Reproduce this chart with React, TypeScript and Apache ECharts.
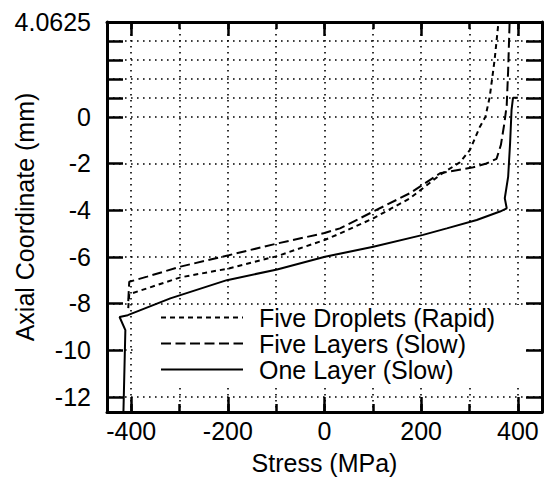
import React, { useEffect, useRef } from "react";
import * as echarts from "echarts";

const seriesNames = ["Five Droplets (Rapid)", "Five Layers (Slow)", "One Layer (Slow)"];

// [stress (MPa), axial coordinate (mm)]
const fiveDroplets: [number, number][] = [
  [-406, -8.2], [-404, -7.6], [-367, -7.35], [-298, -6.88], [-198, -6.5],
  [-98, -5.97], [0, -5.28], [32, -5.0], [101, -4.35], [177, -3.49],
  [239, -2.49], [280, -1.95], [301, -1.42], [321, -0.45], [333, 0],
  [342, 0.87], [352, 2.45], [360, 4.0625],
];

const fiveLayers: [number, number][] = [
  [-406, -7.9], [-404, -7.07], [-367, -6.85], [-298, -6.42], [-198, -5.93],
  [-98, -5.43], [0, -4.98], [32, -4.78], [101, -4.06], [177, -3.27],
  [239, -2.42], [308, -2.16], [335, -2.0], [356, -1.8], [365, -1.2],
  [372, -0.3], [377, 0.5], [380, 2], [383, 4.0625],
];

const oneLayer: [number, number][] = [
  [-416, -12.65], [-412, -9.14], [-424, -8.58], [-407, -8.5], [-319, -7.78],
  [-202, -7.0], [-98, -6.54], [1, -6.0], [101, -5.57], [204, -5.06],
  [253, -4.78], [315, -4.42], [363, -4.06], [377, -3.92], [373, -3.49],
  [380, -2.56], [384, -1.12], [387, 0.3], [390, 0.8125], [400, 0.8125],
];

const xMin = -450;
const xMax = 450;
const yMin = -12.65;
const yMax = 4.0625;
const xGridValues = [-400, -300, -200, -100, 0, 100, 200, 300, 400];
const xMajorValues = [-400, -200, 0, 200, 400];
const yTickValues = [-12, -10, -8, -6, -4, -2, 0, 0.8125, 1.625, 2.4375, 3.25];
const yLabelValues = [-12, -10, -8, -6, -4, -2, 0, 4.0625];

const FONT = "'Liberation Sans', Arial, Helvetica, sans-serif";

export default function App() {
  const ref = useRef<HTMLDivElement>(null);

  useEffect(() => {
    if (!ref.current) return;
    const chart = echarts.init(ref.current, undefined, { renderer: "svg" });

    const axisLineStyle = { color: "#000", width: 3 };
    const gridLine = {
      show: true,
      lineStyle: { color: "#000", width: 1.6, type: [1.6, 4.4] as number[] },
    };
    const tickLine = { color: "#000", width: 2.5 };

    const xBase = { type: "value" as const, min: xMin, max: xMax, gridIndex: 0 };
    const yBase = { type: "value" as const, min: yMin, max: yMax, gridIndex: 0 };

    const option: any = {
      animation: false,
      backgroundColor: "#fff",
      textStyle: { fontFamily: FONT },
      grid: {
        left: 107,
        right: 3,
        top: 22,
        bottom: 65,
        containLabel: false,
        outerBoundsMode: "none",
      },
      legend: {
        data: seriesNames,
        orient: "vertical",
        left: 137,
        top: 305,
        z: 1,
        itemWidth: 82,
        itemHeight: 14,
        itemGap: 1,
        padding: [0, 28, 3, 23],
        backgroundColor: "#fff",
        itemStyle: { opacity: 0 },
        textStyle: {
          fontSize: 25,
          color: "#000",
          fontFamily: FONT,
          padding: [0, 0, 0, 11],
        },
      },
      xAxis: [
        {
          ...xBase,
          position: "bottom",
          name: "Stress (MPa)",
          nameLocation: "middle",
          nameGap: 38,
          nameMoveOverlap: false,
          nameTextStyle: { fontSize: 25, color: "#000", fontFamily: FONT },
          axisLine: { show: true, onZero: false, lineStyle: axisLineStyle },
          axisTick: { show: true, inside: true, length: 8, customValues: xGridValues, lineStyle: tickLine },
          axisLabel: {
            show: true,
            customValues: xMajorValues,
            margin: 6,
            fontSize: 25,
            color: "#000",
            fontFamily: FONT,
          },
          splitLine: gridLine,
        },
        {
          ...xBase,
          position: "bottom",
          axisLine: { show: false, onZero: false },
          axisTick: { show: true, inside: true, length: 15, customValues: xMajorValues, lineStyle: tickLine },
          axisLabel: { show: false },
          splitLine: { show: false },
        },
        {
          ...xBase,
          position: "top",
          axisLine: { show: true, onZero: false, lineStyle: axisLineStyle },
          axisTick: { show: true, inside: true, length: 7, customValues: xGridValues, lineStyle: tickLine },
          axisLabel: { show: false },
          splitLine: { show: false },
        },
        {
          ...xBase,
          position: "top",
          axisLine: { show: false, onZero: false },
          axisTick: { show: true, inside: true, length: 14, customValues: xMajorValues, lineStyle: tickLine },
          axisLabel: { show: false },
          splitLine: { show: false },
        },
      ],
      yAxis: [
        {
          ...yBase,
          position: "left",
          name: "Axial Coordinate (mm)",
          nameLocation: "middle",
          nameGap: 70,
          nameMoveOverlap: false,
          nameTextStyle: { fontSize: 25, color: "#000", fontFamily: FONT },
          axisLine: { show: true, onZero: false, lineStyle: axisLineStyle },
          axisTick: { show: true, inside: true, length: 16, customValues: yTickValues, lineStyle: tickLine },
          axisLabel: {
            show: true,
            customValues: yLabelValues,
            margin: 16,
            fontSize: 25,
            color: "#000",
            fontFamily: FONT,
            formatter: (v: number) => String(v),
          },
          splitLine: gridLine,
        },
        {
          ...yBase,
          position: "right",
          axisLine: { show: true, onZero: false, lineStyle: axisLineStyle },
          axisTick: { show: true, inside: true, length: 16, customValues: yTickValues, lineStyle: tickLine },
          axisLabel: { show: false },
          splitLine: { show: false },
        },
      ],
      series: [
        {
          name: seriesNames[0],
          type: "line",
          data: fiveDroplets,
          symbol: "none",
          z: 3,
          lineStyle: { color: "#000", width: 2, type: [5, 4] },
          itemStyle: { color: "#000" },
        },
        {
          name: seriesNames[1],
          type: "line",
          data: fiveLayers,
          symbol: "none",
          z: 3,
          lineStyle: { color: "#000", width: 2, type: [10, 4.5] },
          itemStyle: { color: "#000" },
        },
        {
          name: seriesNames[2],
          type: "line",
          data: oneLayer,
          symbol: "none",
          z: 3,
          lineStyle: { color: "#000", width: 2, type: "solid" },
          itemStyle: { color: "#000" },
        },
      ],
    };

    chart.setOption(option);
    return () => chart.dispose();
  }, []);

  return (
    <div
      ref={ref}
      style={{ position: "fixed", left: 0, top: 0, width: 545, height: 477, background: "#fff" }}
    />
  );
}
